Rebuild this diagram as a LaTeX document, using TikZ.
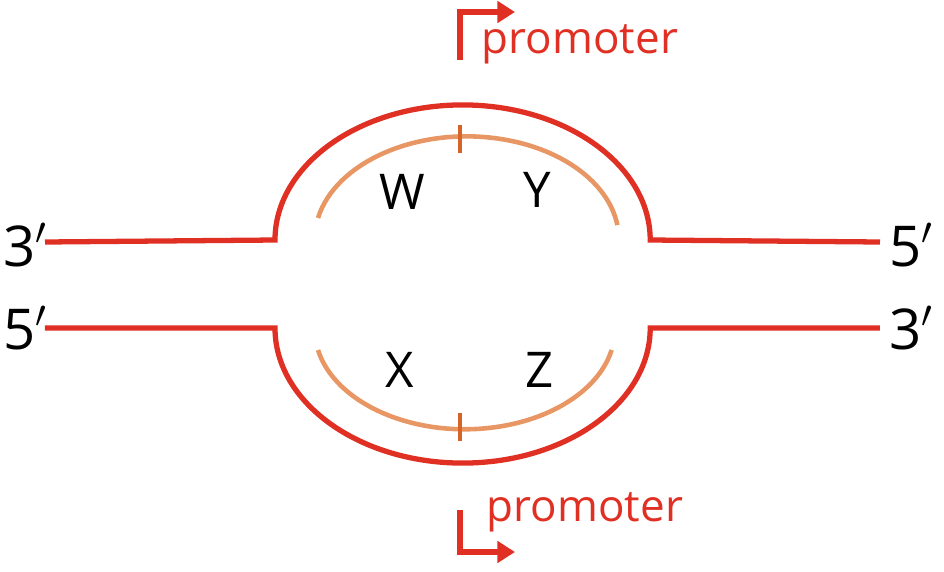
\documentclass[tikz,border=0pt]{standalone}
\usepackage{fontspec}
\setmainfont{Open Sans}
\usetikzlibrary{arrows.meta}
\definecolor{strandred}{RGB}{224,48,36}
\definecolor{rnaorange}{RGB}{232,150,100}
\definecolor{tickorange}{RGB}{214,100,40}
\begin{document}
\begin{tikzpicture}[x=0.01cm,y=-0.01cm,
  strand/.style={strandred,line width=1.5pt},
  rna/.style={rnaorange,line width=1.3pt},
  lbl/.style={font=\fontsize{14}{14}\selectfont},
  ends/.style={font=\fontsize{16}{16}\selectfont},
  promo/.style={strandred,font=\fontsize{12.5}{12.5}\selectfont}]
  \useasboundingbox (0,0) rectangle (944,572);

  % DNA strands with the bubble
  \draw[strand] (45,242) -- (275,240) arc[start angle=180,end angle=0,x radius=1.875cm,y radius=1.35cm] -- (880,242);
  \draw[strand] (45,328) -- (275,328) arc[start angle=180,end angle=360,x radius=1.875cm,y radius=1.35cm] -- (880,328);

  % transcripts
  \draw[rna] (318,218) arc[start angle=168,end angle=8,x radius=1.52cm,y radius=1.03cm];
  \draw[rna] (318,350) arc[start angle=192,end angle=348,x radius=1.50cm,y radius=1.00cm];
  \draw[tickorange,line width=1.3pt] (460,125) -- (460,153);
  \draw[tickorange,line width=1.3pt] (460,413) -- (460,441);

  % labels
  \node[lbl] (w) at (402,192) {W};
  \node[lbl] (y) at (537,190) {Y};
  \node[lbl] (x) at (400,370) {X};
  \node[lbl] (z) at (540,370) {Z};
  \node[ends] (tl) at (26,245) {3$'$};
  \node[ends] (tr) at (912,245) {5$'$};
  \node[ends] (bl) at (26,328) {5$'$};
  \node[ends] (br) at (912,328) {3$'$};

  % promoters
  \coordinate (p1) at (460,60);
  \coordinate (p2) at (515,12);
  \draw[strand,-{Triangle[length=5pt,width=6pt]}] (p1) |- (p2);
  \node[promo] (pt) at (580,44) {promoter};
  \coordinate (q1) at (460,510);
  \coordinate (q2) at (515,552);
  \draw[strand,-{Triangle[length=5pt,width=6pt]}] (q1) |- (q2);
  \node[promo] (pb) at (585,512) {promoter};
\end{tikzpicture}
\end{document}
